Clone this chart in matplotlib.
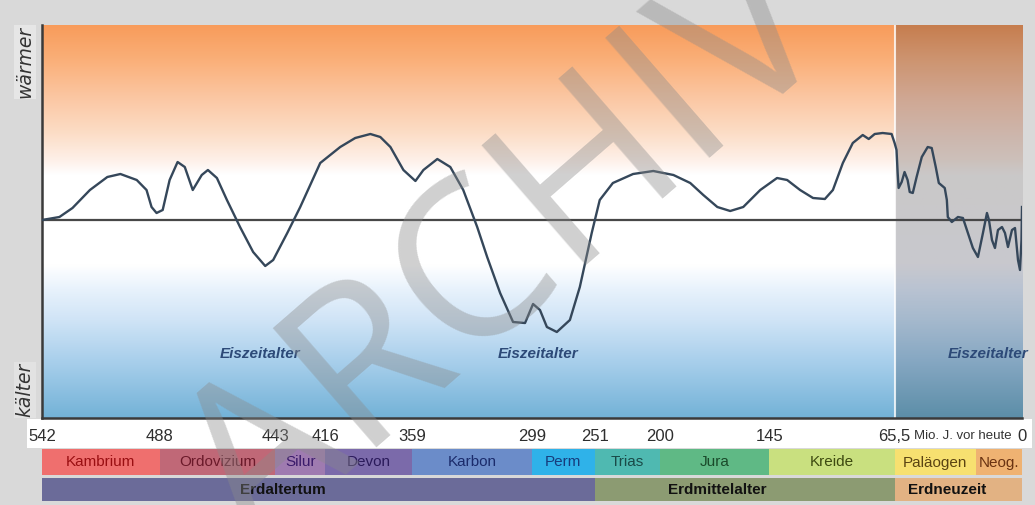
import matplotlib
matplotlib.use("Agg")
import matplotlib.pyplot as plt
import numpy as np
from matplotlib.patches import Rectangle

# --- Data ---
# Temperaturkurve: Alter (Mio. J. vor heute) und relative Abweichung (willk. Einheiten)
age = [542, 534, 528, 520, 512, 506, 498.5, 494, 491.7, 489.4,
       486.8, 484.1, 481, 478.2, 475.1, 471.6, 469.2, 465.7, 461.8, 456.7,
       451.6, 446.9, 443.8, 436.5, 429.5, 418.7, 406.2, 396.4, 386.5, 380,
       373.4, 364.9, 357.5, 353.5, 346.5, 340, 333.5, 326.5, 321.5, 315,
       308.5, 302.5, 298.2, 292.9, 287.6, 280, 270, 262.4, 253.3, 247.1,
       236.9, 221.2, 205.5, 193.4, 184.9, 178.3, 171.2, 164.7, 158.1, 149.5,
       140, 133.6, 125.4, 117.2, 109.7, 104.6, 98.3, 92, 85.7, 81.9,
       78.1, 73.1, 67.4, 65.5, 64.5, 63.9, 63.4, 61.8, 60.3, 58.7,
       57.6, 56, 54, 51.3, 48.2, 46.1, 44, 42.4, 39.3, 38.2,
       37.7, 35.6, 32.4, 29.8, 27.2, 24.6, 22, 19.5, 17.5, 16.5,
       15, 13.5, 12, 10, 8.5, 7, 5, 3.5, 2, 1,
       0.25, 0]
temp = [0, 3, 12, 30, 43, 46, 40, 30, 13, 7,
        10, 40, 58, 53, 30, 45, 50, 42, 20, -7,
        -32, -46, -40, -13, 13, 57, 73, 82, 86, 83,
        73, 50, 39, 50, 61, 53, 30, -7, -37, -73,
        -102, -103, -84, -90, -107, -112, -100, -67, -13, 20,
        37, 46, 49, 45, 37, 25, 13, 9, 13, 30,
        42, 40, 30, 22, 21, 30, 57, 77, 85, 81,
        86, 87, 86, 77, 70, 47, 32, 38, 48, 40,
        28, 27, 43, 63, 73, 72, 53, 37, 32, 20,
        3, -2, 3, 2, -13, -28, -37, -13, 7, 0,
        -20, -28, -10, -7, -13, -27, -10, -8, -40, -50,
        -20, 13]

tick_ages = [542, 488, 443, 416, 359, 299, 251, 200, 145, 65.5, 0]
tick_labels = ['542', '488', '443', '416', '359', '299', '251', '200', '145', '65,5', '0']

periods = ['Kambrium', 'Ordovizium', 'Silur', 'Devon', 'Karbon', 'Perm',
           'Trias', 'Jura', 'Kreide', 'Paläogen', 'Neog.']
period_start = [542, 488, 443, 416, 359, 299, 251, 200, 145, 65.5, 23]
period_end = [488, 443, 416, 359, 299, 251, 200, 145, 65.5, 23, 0]

eras = ['Erdaltertum', 'Erdmittelalter', 'Erdneuzeit']
era_start = [542, 251, 65.5]
era_end = [251, 65.5, 0]

# --- Styles ---
period_colors = ['#ef6f6e', '#c06877', '#9f7bb0', '#7b6aaa', '#6b8cc9', '#2fb2e9',
                 '#4fb9b1', '#5fb985', '#c9e07f', '#f7e070', '#efb272']
period_text = ['#9a0f12', '#6b1a2a', '#3a1a6a', '#2a1a5a', '#1b2b6b', '#173c7c',
               '#1a4a48', '#1a4a2a', '#3d4a10', '#5a4312', '#6a3312']
era_colors = ['#6b6b99', '#8c9b72', '#e2b283']
era_label_age = [439, 171, 38]

narrow = ['Liberation Sans Narrow', 'Liberation Sans', 'DejaVu Sans']

# nichtlineare Zeitachse: Periodengrenzen -> Anteil der Achsenbreite
scale_age = np.array([0, 23, 65.5, 145, 200, 251, 299, 359, 416, 443, 488, 542])
scale_pos = np.array([0, 0.047, 0.130, 0.258, 0.369, 0.436, 0.5, 0.622, 0.711, 0.762, 0.880, 1.0])


def fwd(a):
    return np.interp(a, scale_age, scale_pos)


def inv(p):
    return np.interp(p, scale_pos, scale_age)


W, H = 1035, 505
fig = plt.figure(figsize=(W / 100, H / 100), dpi=100)
fig.patch.set_facecolor('#d9d9d9')

x0, x1 = 42, 1022
y_top, y_bot = 25, 418
ax = fig.add_axes([x0 / W, 1 - y_bot / H, (x1 - x0) / W, (y_bot - y_top) / H])
ax.set_xscale('function', functions=(fwd, inv))

# background gradients
f_stops = [0, 0.148, 0.249, 0.326, 0.389, 0.618, 0.656, 0.72, 0.809, 0.911, 1.0]
left_cols = np.array([(115, 178, 215), (170, 208, 236), (208, 228, 246), (232, 242, 252),
                      (255, 255, 255), (255, 255, 255), (254, 240, 232), (252, 222, 200),
                      (251, 200, 165), (250, 175, 120), (248, 155, 90)]) / 255
right_cols = np.array([(92, 142, 168), (135, 168, 195), (165, 185, 205), (185, 195, 210),
                       (200, 200, 206), (202, 200, 200), (204, 192, 186), (205, 182, 172),
                       (208, 168, 148), (205, 148, 112), (198, 125, 78)]) / 255
ff = np.linspace(0, 1, 400)


def grad(cols):
    g = np.stack([np.interp(ff, f_stops, cols[:, k]) for k in range(3)], axis=-1)
    return g[:, None, :]


split = 1 - fwd(65.5)
ax.imshow(grad(left_cols), extent=(0, split, 0, 1), origin='lower', aspect='auto',
          transform=ax.transAxes, zorder=0, interpolation='bilinear')
ax.imshow(grad(right_cols), extent=(split, 1, 0, 1), origin='lower', aspect='auto',
          transform=ax.transAxes, zorder=0, interpolation='bilinear')

ax.axvline(65.5, color='white', lw=1.5, alpha=0.8, zorder=1)
ax.axhline(0, color='#474747', lw=1.6, zorder=2)
ax.plot(age, temp, color='#35475a', lw=1.7, zorder=3)

ax.set_xlim(542, 0)
ax.set_ylim(-198, 195)
ax.set_yticks([])
ax.set_xticks(tick_ages)
ax.set_xticklabels(tick_labels, family=narrow, fontsize=12, color='#2e2e2e')
ax.tick_params(axis='x', length=0, pad=8)
ax.xaxis.set_minor_locator(matplotlib.ticker.NullLocator())
for s in ['top', 'right']:
    ax.spines[s].set_visible(False)
for s in ['left', 'bottom']:
    ax.spines[s].set_color('#3a3a3a')
    ax.spines[s].set_linewidth(1.8)

for xa in [449, 294, 17]:
    ax.text(xa, -134, 'Eiszeitalter', ha='center', va='center', family=narrow,
            fontsize=11, style='italic', fontweight='bold', color='#2d4a78', zorder=4)

fig.text(963 / W, 1 - 436 / H, 'Mio. J. vor heute', ha='center', va='center',
         family=narrow, fontsize=9.5, color='#333333')

fig.text(25 / W, 1 - 62 / H, 'wärmer', rotation=90, ha='center', va='center',
         fontsize=13.5, style='italic', color='#333333',
         bbox=dict(facecolor='#e6e6e6', edgecolor='none', pad=1))
fig.text(25 / W, 1 - 390 / H, 'kälter', rotation=90, ha='center', va='center',
         fontsize=13.5, style='italic', color='#333333',
         bbox=dict(facecolor='#e2e2e2', edgecolor='none', pad=1))

# white strip for tick labels
fig.patches.append(Rectangle((27 / W, 1 - 448 / H), (1032 - 27) / W, 29 / H,
                             transform=fig.transFigure, facecolor='white',
                             edgecolor='none', zorder=-1))

# period / era bars
axb = fig.add_axes([x0 / W, 1 - 501 / H, (x1 - x0) / W, 52 / H])
axb.set_xscale('function', functions=(fwd, inv))
axb.set_xlim(542, 0)
axb.set_ylim(52, 0)
axb.axis('off')
for name, a, b, c, tc in zip(periods, period_start, period_end, period_colors, period_text):
    axb.barh(13, b - a, left=a, height=26, color=c, edgecolor='none')
    axb.text(inv((fwd(a) + fwd(b)) / 2), 13.5, name, ha='center', va='center',
             family=narrow, fontsize=11, color=tc)
for name, a, b, c, la in zip(eras, era_start, era_end, era_colors, era_label_age):
    axb.barh(40.5, b - a, left=a, height=23, color=c, edgecolor='none')
    axb.text(la, 41, name, ha='center', va='center', family=narrow,
             fontsize=11, fontweight='bold', color='#111111')

# watermark
fig.text(510 / W, 1 - 255 / H, 'ARCHIV', rotation=41, ha='center', va='center',
         fontsize=160, family=['Open Sans', 'DejaVu Sans'], color='#8a8a8a',
         alpha=0.4, zorder=10)

fig.savefig('out.png', dpi=100, facecolor=fig.get_facecolor())
